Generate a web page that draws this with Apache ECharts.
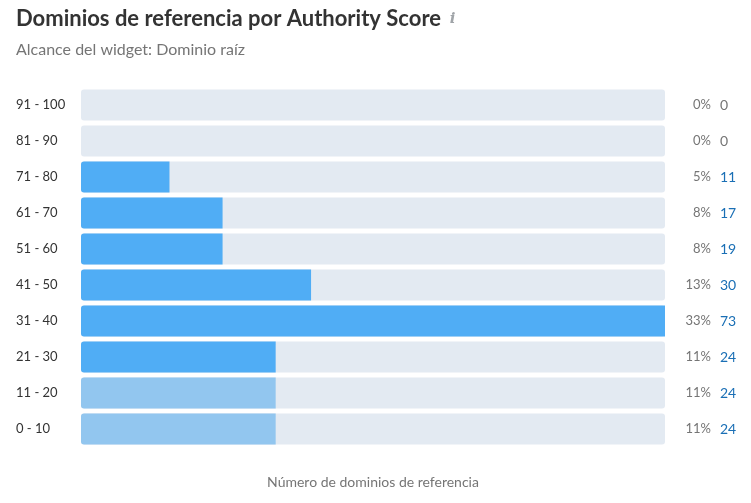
<!DOCTYPE html>
<html><head><meta charset="utf-8">
<script src="https://cdn.jsdelivr.net/npm/echarts@6/dist/echarts.min.js"></script>
<style>html,body{margin:0;padding:0;background:#fff}#c{width:751px;height:503px}</style>
</head><body><div id="c"></div>
<script>
const categories = ['0 - 10','11 - 20','21 - 30','31 - 40','41 - 50','51 - 60','61 - 70','71 - 80','81 - 90','91 - 100'];
const percents = [11, 11, 11, 33, 13, 8, 8, 5, 0, 0];
const counts = [24, 24, 24, 73, 30, 19, 17, 11, 0, 0];
const lightRows = ['0 - 10', '11 - 20'];

const FONT = 'Lato';
const chart = echarts.init(document.getElementById('c'));
chart.setOption({
  animation: false,
  textStyle: {fontFamily: FONT},
  title: [{
    left: 11, top: 3,
    text: '{t|Dominios de referencia por Authority Score}  {i|i}',
    textStyle: {rich: {
      t: {fontFamily: FONT, fontSize: 22, fontWeight: 'bold', color: '#333333'},
      i: {fontFamily: 'DejaVu Serif', fontStyle: 'italic', fontSize: 15, color: '#a0a4a8'}
    }}
  }, {
    left: 11, top: 37,
    text: 'Alcance del widget: Dominio raíz',
    textStyle: {fontFamily: FONT, fontSize: 16, fontWeight: 'normal', color: '#757575'}
  }],
  grid: {left: 81, right: 86, top: 87, height: 360, containLabel: false},
  xAxis: {
    type: 'value', min: 0, max: 33,
    axisLine: {show: false}, axisTick: {show: false}, axisLabel: {show: false}, splitLine: {show: false},
    name: 'Número de dominios de referencia', nameLocation: 'middle', nameGap: 28,
    nameTextStyle: {fontFamily: FONT, fontSize: 14, color: '#757575'}
  },
  yAxis: [{
    type: 'category', data: categories,
    axisLine: {show: false}, axisTick: {show: false},
    axisLabel: {align: 'left', margin: 65, fontFamily: FONT, fontSize: 13, color: '#333333'}
  }, {
    type: 'category', data: percents.map(p => p + '%'), position: 'right',
    axisLine: {show: false}, axisTick: {show: false},
    axisLabel: {align: 'right', margin: 46, fontFamily: FONT, fontSize: 13, color: '#757575'}
  }, {
    type: 'category', data: counts.map(String), position: 'right',
    axisLine: {show: false}, axisTick: {show: false},
    axisLabel: {align: 'left', margin: 55, fontFamily: FONT, fontSize: 14,
      color: (v) => v === '0' ? '#757575' : '#1a6fb5'}
  }],
  series: [{
    type: 'bar', yAxisIndex: 0,
    data: percents.map((p, i) => ({
      value: p,
      itemStyle: {color: lightRows.includes(categories[i]) ? '#92c6ef' : '#50adf5'}
    })),
    barWidth: 31,
    itemStyle: {borderRadius: [3, 0, 0, 3]},
    showBackground: true,
    backgroundStyle: {color: '#e3eaf2', borderRadius: 3}
  }]
});
</script></body></html>
